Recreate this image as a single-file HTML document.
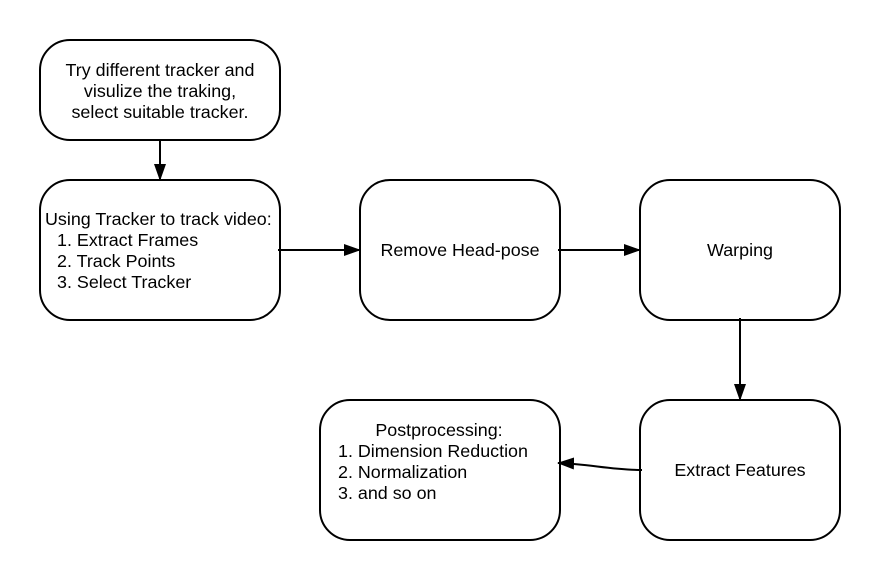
<!DOCTYPE html>
<html><head><style>body{margin:0;background:#fff}svg{display:block}text{font-family:"Liberation Sans",sans-serif;font-size:17.9px;fill:#000}</style></head><body>
<svg width="880" height="580" viewBox="0 0 880 580">
<defs><marker id="a" markerWidth="18" markerHeight="14" refX="16" refY="7" orient="auto" markerUnits="userSpaceOnUse"><path d="M0,1L17,7L0,13z" fill="#000"/></marker></defs>
<g fill="#fff" stroke="#000" stroke-width="2">
<rect x="40" y="40" width="240" height="100" rx="30"/>
<rect x="40" y="180" width="240" height="140" rx="30"/>
<rect x="360" y="180" width="200" height="140" rx="30"/>
<rect x="640" y="180" width="200" height="140" rx="30"/>
<rect x="640" y="400" width="200" height="140" rx="30"/>
<rect x="320" y="400" width="240" height="140" rx="30"/>
</g>
<g stroke="#000" stroke-width="2" fill="none">
<path d="M160 140V180" marker-end="url(#a)"/>
<path d="M278 250H360" marker-end="url(#a)"/>
<path d="M558 250H640" marker-end="url(#a)"/>
<path d="M740 318V400" marker-end="url(#a)"/>
<path d="M642 470C610 470 590 464 558 463" marker-end="url(#a)"/>
</g>
<g text-anchor="middle">
<text x="160" y="76">Try different tracker and</text>
<text x="160" y="97">visulize the traking,</text>
<text x="160" y="118">select suitable tracker.</text>
<text x="460" y="256">Remove Head-pose</text>
<text x="740" y="256">Warping</text>
<text x="740" y="476">Extract Features</text>
<text x="439" y="436">Postprocessing:</text>
</g>
<text x="45" y="225">Using Tracker to track video:</text>
<text x="57" y="246">1. Extract Frames</text>
<text x="57" y="267">2. Track Points</text>
<text x="57" y="288">3. Select Tracker</text>
<text x="338" y="457">1. Dimension Reduction</text>
<text x="338" y="478">2. Normalization</text>
<text x="338" y="499">3. and so on</text>
</svg>
</body></html>
